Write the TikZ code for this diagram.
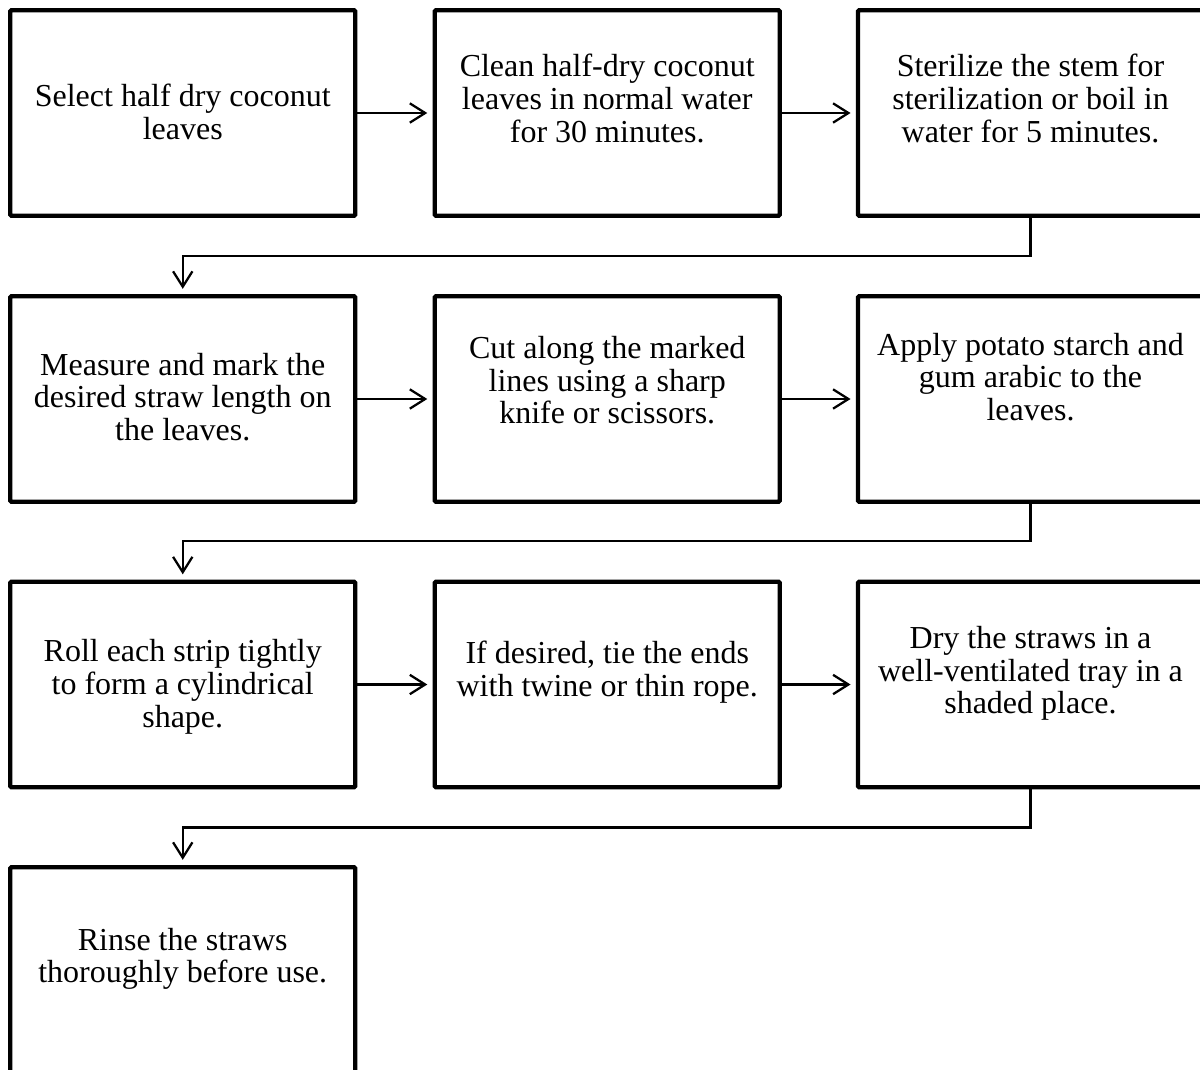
\documentclass[tikz,border=0pt]{standalone}
\usepackage{fontspec}
\setmainfont{Liberation Serif}
\usetikzlibrary{arrows.meta}
\newcommand{\lines}[1]{\begin{tabular}[t]{@{}c@{}}#1\end{tabular}}
\begin{document}
\begin{tikzpicture}[x=0.75pt,y=-0.75pt,
  stepbox/.style={draw, line width=3.2pt, minimum width=258.75pt, minimum height=154.1pt, inner sep=0pt, rounded corners=0.8pt},
  txt/.style={anchor=base, inner sep=0pt, font=\fontsize{24pt}{24.6pt}\selectfont},
  arr/.style={line width=1.7pt, -{Straight Barb[length=11.5pt,width=14.5pt]}, shorten >=4pt}]
\clip (0,0) rectangle (1200,1070);
\fill[white] (0,0) rectangle (1200,1070);
% boxes
\node[stepbox] (b1) at (182.75,113) {};
\node[stepbox] (b2) at (607.25,113) {};
\node[stepbox] (b3) at (1030.5,113) {};
\node[stepbox] (b4) at (182.75,399) {};
\node[stepbox] (b5) at (607.25,399) {};
\node[stepbox] (b6) at (1030.5,399) {};
\node[stepbox] (b7) at (182.75,684.5) {};
\node[stepbox] (b8) at (607.25,684.5) {};
\node[stepbox] (b9) at (1030.5,684.5) {};
\node[stepbox] (b10) at (182.75,970) {};
% texts
\node[txt] (t1) at (182.75,106.7) {\lines{Select half dry coconut\\leaves}};
\node[txt] (t2) at (607.25,77) {\lines{Clean half-dry coconut\\leaves in normal water\\for 30 minutes.}};
\node[txt] (t3) at (1030.5,76.7) {\lines{Sterilize the stem for\\sterilization or boil in\\water for 5 minutes.}};
\node[txt] (t4) at (182.75,375) {\lines{Measure and mark the\\desired straw length on\\the leaves.}};
\node[txt] (t5) at (607.25,358.3) {\lines{Cut along the marked\\lines using a sharp\\knife or scissors.}};
\node[txt] (t6) at (1030.5,355) {\lines{Apply potato starch and\\gum arabic to the\\leaves.}};
\node[txt] (t7) at (182.75,661.7) {\lines{Roll each strip tightly\\to form a cylindrical\\shape.}};
\node[txt] (t8) at (607.25,663.3) {\lines{If desired, tie the ends\\with twine or thin rope.}};
\node[txt] (t9) at (1030.5,648.3) {\lines{Dry the straws in a\\well-ventilated tray in a\\shaded place.}};
\node[txt] (t10) at (182.75,950) {\lines{Rinse the straws\\thoroughly before use.}};
% connectors
\draw[arr] (b1.east) -- (b2.west);
\draw[arr] (b2.east) -- (b3.west);
\draw[arr] (b4.east) -- (b5.west);
\draw[arr] (b5.east) -- (b6.west);
\draw[arr] (b7.east) -- (b8.west);
\draw[arr] (b8.east) -- (b9.west);
\draw[arr] (b3.south) -- ++(0,38.5) -| (b4.north);
\draw[arr] (b6.south) -- ++(0,37) -| (b7.north);
\draw[arr] (b9.south) -- ++(0,38) -| (b10.north);
\end{tikzpicture}
\end{document}
